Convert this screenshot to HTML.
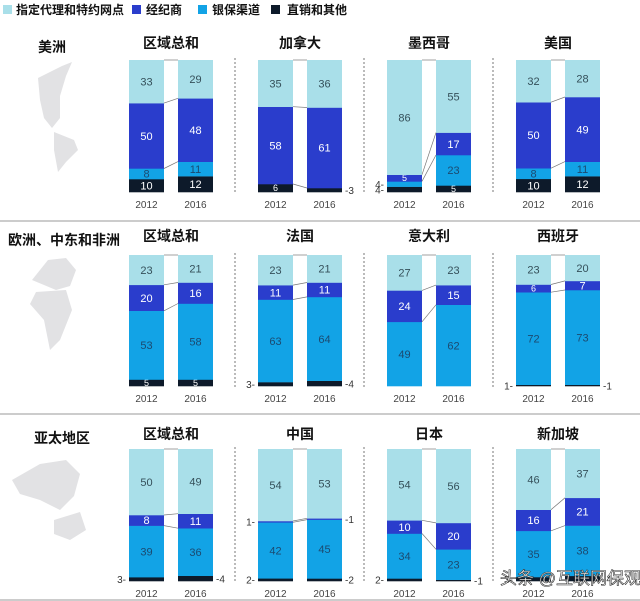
<!DOCTYPE html>
<html><head><meta charset="utf-8"><style>
html,body{margin:0;padding:0;background:#fff;}
svg{display:block;font-family:"Liberation Sans","Noto Sans CJK SC",sans-serif;}
</style></head><body>
<svg id="s" width="640" height="601" viewBox="0 0 640 601" xmlns="http://www.w3.org/2000/svg">
<rect width="640" height="601" fill="#fff"/>
<g font-size="12" font-weight="bold" fill="#111">
<rect x="3" y="5" width="9" height="9" fill="#a9dfe9"/><text x="16" y="14">指定代理和特约网点</text>
<rect x="132" y="5" width="9" height="9" fill="#2a3dcc"/><text x="146" y="14">经纪商</text>
<rect x="198" y="5" width="9" height="9" fill="#12a3e6"/><text x="212" y="14">银保渠道</text>
<rect x="271" y="5" width="9" height="9" fill="#0d1a2a"/><text x="287" y="14">直销和其他</text>
</g>
<g fill="#e2e2e4">
<path d="M38 78 L62 66 L72 62 L66 76 L60 96 L60 118 L52 128 L44 118 L40 100 Z"/>
<path d="M54 132 L74 140 L78 150 L66 162 L58 172 L54 150 Z"/>
<path d="M32 280 L48 260 L66 258 L76 270 L70 286 L56 290 Z"/>
<path d="M36 292 L66 290 L72 310 L60 340 L50 350 L44 320 L30 304 Z"/>
<path d="M12 480 L40 464 L66 460 L80 474 L74 496 L60 510 L40 500 L20 494 Z"/>
<path d="M54 520 L80 512 L86 530 L70 540 L54 534 Z"/>
</g>
<line x1="0" y1="221" x2="640" y2="221" stroke="#999" stroke-width="1"/>
<line x1="0" y1="414" x2="640" y2="414" stroke="#999" stroke-width="1"/>
<line x1="0" y1="600" x2="640" y2="600" stroke="#999" stroke-width="1"/>
<g id="g"></g>
<text x="500" y="584" font-size="17" fill="#fff" stroke="#333" stroke-width="0.6">头条 @互联网保观</text>
</svg>
<script>
var C=["#a9dfe9","#2a3dcc","#12a3e6","#0d1a2a"];
var TC=["#35505a","#fff","#1c4a70","#fff"];
var rows=[
 {t:"美洲",ty:52,top:60,bot:192,yy:208,p:[
  ["区域总和",[33,50,8,10],[29,48,11,12]],
  ["加拿大",[35,58,0,6],[36,61,0,3]],
  ["墨西哥",[86,5,4,4],[55,17,23,5]],
  ["美国",[32,50,8,10],[28,49,11,12]]]},
 {t:"欧洲、中东和非洲",ty:245,top:255,bot:386,yy:402,p:[
  ["区域总和",[23,20,53,5],[21,16,58,5]],
  ["法国",[23,11,63,3],[21,11,64,4]],
  ["意大利",[27,24,49,0],[23,15,62,0]],
  ["西班牙",[23,6,72,1],[20,7,73,1]]]},
 {t:"亚太地区",ty:443,top:449,bot:581,yy:597,p:[
  ["区域总和",[50,8,39,3],[49,11,36,4]],
  ["中国",[54,1,42,2],[53,1,45,2]],
  ["日本",[54,10,34,2],[56,20,23,1]],
  ["新加坡",[46,16,35,3],[37,21,38,4]]]}
];
var h="";
rows.forEach(function(r,ri){
 var tx = ri==1?8:(ri==0?38:34);
 h+='<text x="'+tx+'" y="'+r.ty+'" font-size="14" font-weight="bold" fill="#111">'+r.t+'</text>';
 r.p.forEach(function(pn,pi){
  var px=129+pi*129;
  h+='<text x="'+(px+42)+'" y="'+(r.ty-4)+'" font-size="14" font-weight="bold" text-anchor="middle" fill="#111">'+pn[0]+'</text>';
  if(pi>0) h+='<line x1="'+(px-23)+'" y1="'+(r.top-2)+'" x2="'+(px-23)+'" y2="'+(r.bot+2)+'" stroke="#777" stroke-dasharray="2,2"/>';
  var bounds=[];
  [pn[1],pn[2]].forEach(function(v,bi){
   var x=px+bi*49, w=35, H=r.bot-r.top;
   var sum=v[0]+v[1]+v[2]+v[3];
   var y=r.bot, b=[];
   for(var k=3;k>=0;k--){
    var sh=v[k]/sum*H; y-=sh;
    if(v[k]>0){
     h+='<rect x="'+x+'" y="'+y.toFixed(1)+'" width="'+w+'" height="'+(sh+0.3).toFixed(1)+'" fill="'+C[k]+'"/>';
     if(v[k]>=5){var fs=sh<9?9:11; h+='<text x="'+(x+17.5)+'" y="'+(y+sh/2+fs*0.36).toFixed(1)+'" font-size="'+fs+'" text-anchor="middle" fill="'+TC[k]+'">'+v[k]+'</text>';}
     else h+='<text x="'+(bi==0?x-3:x+w+3)+'" y="'+(y+sh/2+4).toFixed(1)+'" font-size="10" text-anchor="'+(bi==0?'end':'start')+'" fill="#333">'+(bi==0?v[k]+'-':'-'+v[k])+'</text>';
    }
    b[k]=y;
   }
   bounds.push(b);
   h+='<text x="'+(x+17.5)+'" y="'+r.yy+'" font-size="10" text-anchor="middle" fill="#444">'+(bi?2016:2012)+'</text>';
  });
  for(var k=0;k<3;k++){
   h+='<line x1="'+(px+35)+'" y1="'+bounds[0][k].toFixed(1)+'" x2="'+(px+49)+'" y2="'+bounds[1][k].toFixed(1)+'" stroke="#777" stroke-width="0.7"/>';
  }
 });
});
document.getElementById("g").innerHTML=h;
</script>
</body></html>
